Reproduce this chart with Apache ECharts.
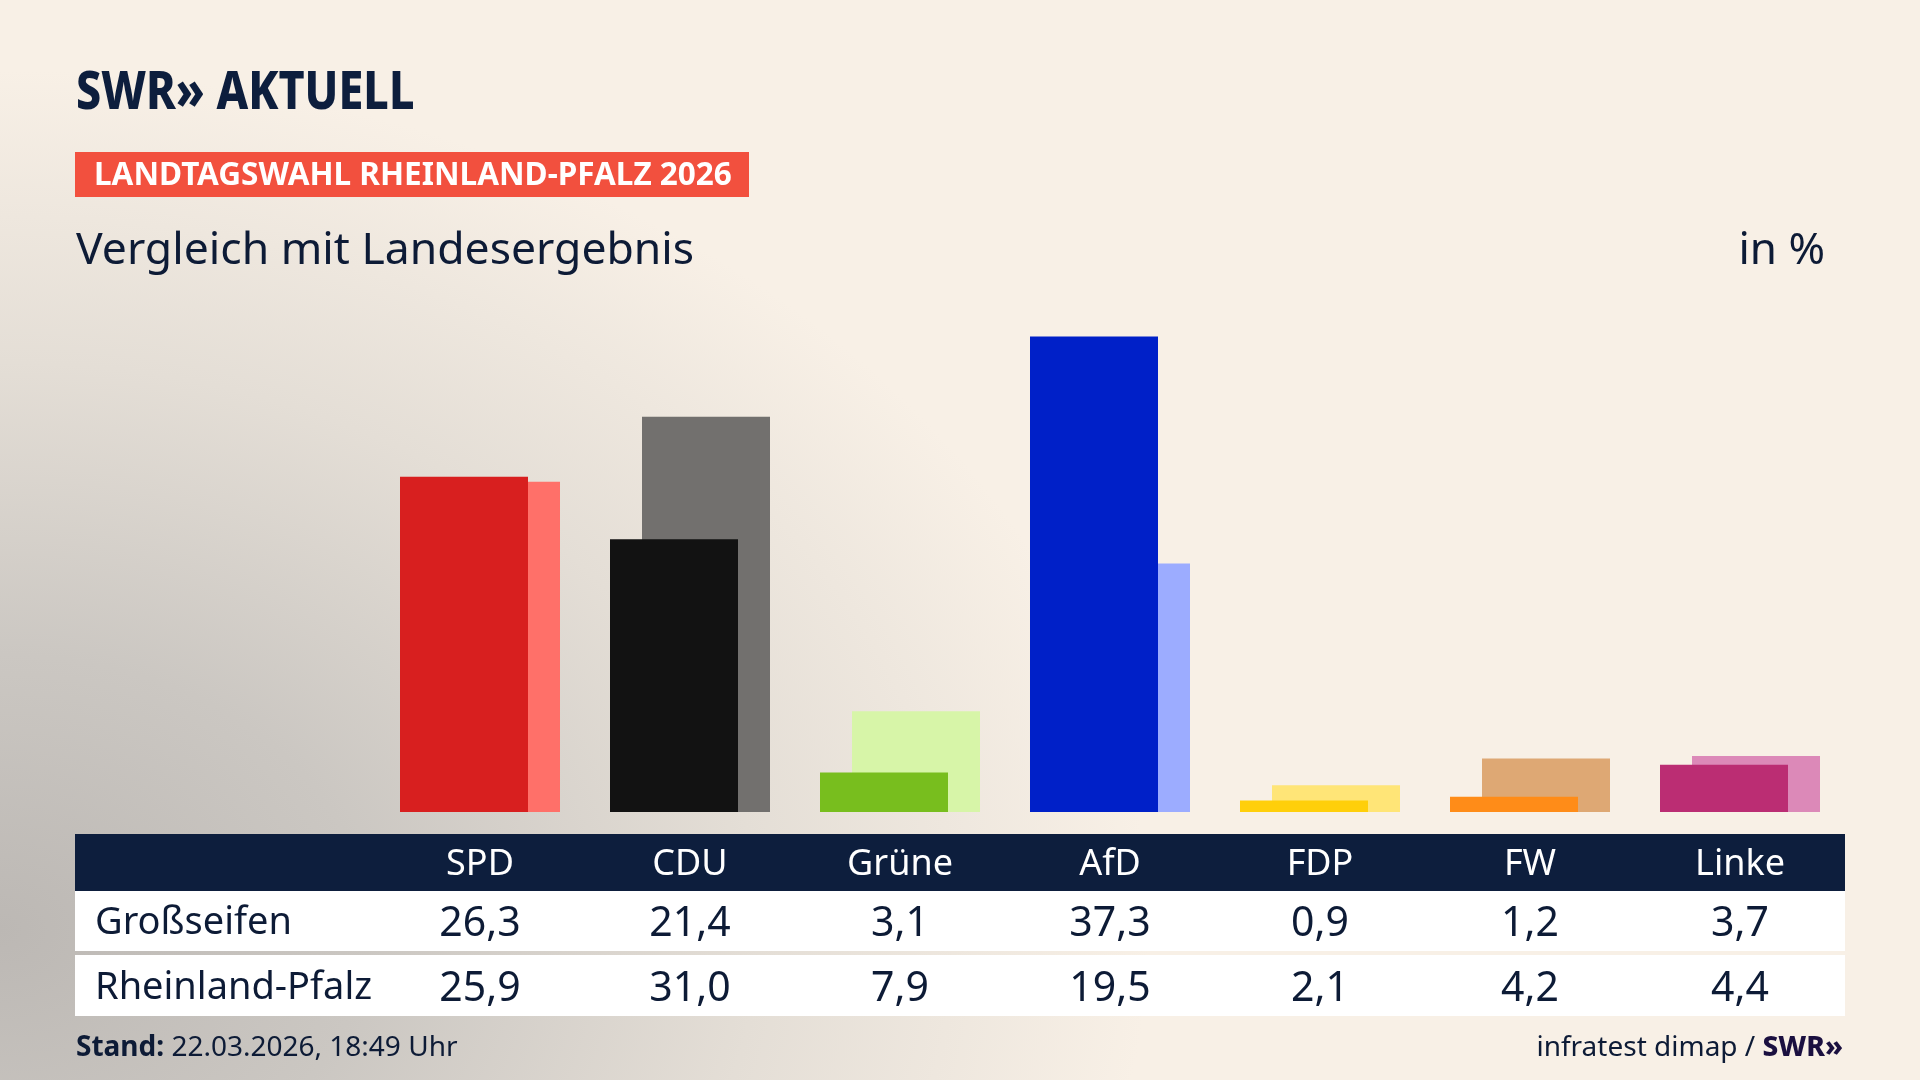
<!DOCTYPE html>
<html>
<head>
<meta charset="utf-8">
<script src="https://cdn.jsdelivr.net/npm/echarts@6/dist/echarts.min.js"></script>
<style>
  html, body { margin: 0; padding: 0; width: 1920px; height: 1080px; overflow: hidden; }
  body {
    background-color: #f8f0e6;
    background-image: radial-gradient(ellipse 1150px 860px at 0px 930px, #bcb8b4 0%, #cbc7c2 32%, #e4ded6 66%, rgba(248,240,230,0) 100%);
  }
  #chart { width: 1920px; height: 1080px; }
</style>
</head>
<body>
<div id="chart"></div>
<script>
const parties = ['SPD', 'CDU', 'Grüne', 'AfD', 'FDP', 'FW', 'Linke'];
const localValues = [26.3, 21.4, 3.1, 37.3, 0.9, 1.2, 3.7];
const stateValues = [25.9, 31.0, 7.9, 19.5, 2.1, 4.2, 4.4];
const localColors = ['#d81f1f', '#121212', '#78be1e', '#0020c8', '#ffcf0a', '#ff8c18', '#bb2d73'];
const stateColors = ['#ff7069', '#72706e', '#d7f5a8', '#9cacff', '#ffe577', '#dea874', '#dc89b8'];
const rowLabels = ['Großseifen', 'Rheinland-Pfalz'];
const yMax = 40;

const fmt = v => v.toFixed(1).replace('.', ',');
const NAVY = '#0d1e3d';
const TEXT = '#0d1b36';
const FONT = '"Noto Sans", "Open Sans", sans-serif';

const chart = echarts.init(document.getElementById('chart'), null, { renderer: 'canvas' });

function valueAxis(data, margin, color, size) {
  return {
    type: 'category',
    data: data,
    gridIndex: 0,
    position: 'bottom',
    offset: 0,
    z: 10,
    axisLine: { show: false },
    axisTick: { show: false },
    splitLine: { show: false },
    axisLabel: {
      interval: 0,
      margin: margin,
      verticalAlign: 'middle',
      color: color,
      fontSize: size,
      fontFamily: FONT
    }
  };
}

const option = {
  animation: false,
  backgroundColor: 'transparent',
  grid: { left: 375, right: 75, top: 302, bottom: 268, containLabel: false },
  xAxis: [
    valueAxis(parties, 53, '#ffffff', 36),
    valueAxis(localValues.map(fmt), 112, TEXT, 41),
    valueAxis(stateValues.map(fmt), 177, TEXT, 41)
  ],
  yAxis: {
    type: 'value', min: 0, max: yMax, show: false,
    splitLine: { show: false }
  },
  series: [
    {
      name: rowLabels[0],
      type: 'bar',
      xAxisIndex: 0,
      data: localValues,
      barWidth: 128,
      barGap: '-75%',
      z: 4,
      itemStyle: { color: p => localColors[p.dataIndex] }
    },
    {
      name: rowLabels[1],
      type: 'bar',
      xAxisIndex: 0,
      data: stateValues,
      barWidth: 128,
      barGap: '-75%',
      z: 3,
      itemStyle: { color: p => stateColors[p.dataIndex] }
    }
  ],
  graphic: [
    // table backgrounds
    { type: 'rect', z: 0, shape: { x: 75, y: 834, width: 1770, height: 57 }, style: { fill: NAVY } },
    { type: 'rect', z: 0, shape: { x: 75, y: 891, width: 1770, height: 60 }, style: { fill: '#ffffff' } },
    { type: 'rect', z: 0, shape: { x: 75, y: 955, width: 1770, height: 61 }, style: { fill: '#ffffff' } },
    // row labels
    { type: 'text', z: 5, x: 95, y: 923, style: { text: rowLabels[0], fill: TEXT, font: '38px ' + FONT, verticalAlign: 'middle' } },
    { type: 'text', z: 5, x: 95, y: 988, style: { text: rowLabels[1], fill: TEXT, font: '38px ' + FONT, verticalAlign: 'middle' } },
    // logo
    { type: 'text', z: 5, x: 76, y: 94, scaleX: 0.83, style: { text: 'SWR» AKTUELL', fill: NAVY, font: '800 54px ' + FONT, verticalAlign: 'middle' } },
    // red label
    { type: 'rect', z: 1, shape: { x: 75, y: 152, width: 674, height: 45 }, style: { fill: '#f2503e' } },
    { type: 'text', z: 5, x: 94, y: 176, style: { text: 'LANDTAGSWAHL RHEINLAND-PFALZ 2026', fill: '#ffffff', font: 'bold 31.5px ' + FONT, verticalAlign: 'middle' } },
    // subtitle
    { type: 'text', z: 5, x: 76, y: 251, style: { text: 'Vergleich mit Landesergebnis', fill: TEXT, font: '44.5px ' + FONT, verticalAlign: 'middle' } },
    { type: 'text', z: 5, x: 1825, y: 251, style: { text: 'in %', fill: TEXT, font: '44px ' + FONT, verticalAlign: 'middle', align: 'right' } },
    // footer
    { type: 'text', z: 5, x: 76, y: 1048, style: {
        text: '{b|Stand:}{r| 22.03.2026, 18:49 Uhr}', verticalAlign: 'middle',
        rich: {
          b: { fontFamily: FONT, fontWeight: 'bold', fontSize: 28, fill: TEXT },
          r: { fontFamily: FONT, fontSize: 28, fill: TEXT }
        } } },
    { type: 'text', z: 5, x: 1843, y: 1048, style: {
        text: '{r|infratest dimap / }{b|SWR»}', verticalAlign: 'middle', align: 'right',
        rich: {
          b: { fontFamily: FONT, fontWeight: 800, fontSize: 28, fill: '#1b1040' },
          r: { fontFamily: FONT, fontSize: 28, fill: TEXT }
        } } }
  ]
};
chart.setOption(option);
</script>
</body>
</html>
